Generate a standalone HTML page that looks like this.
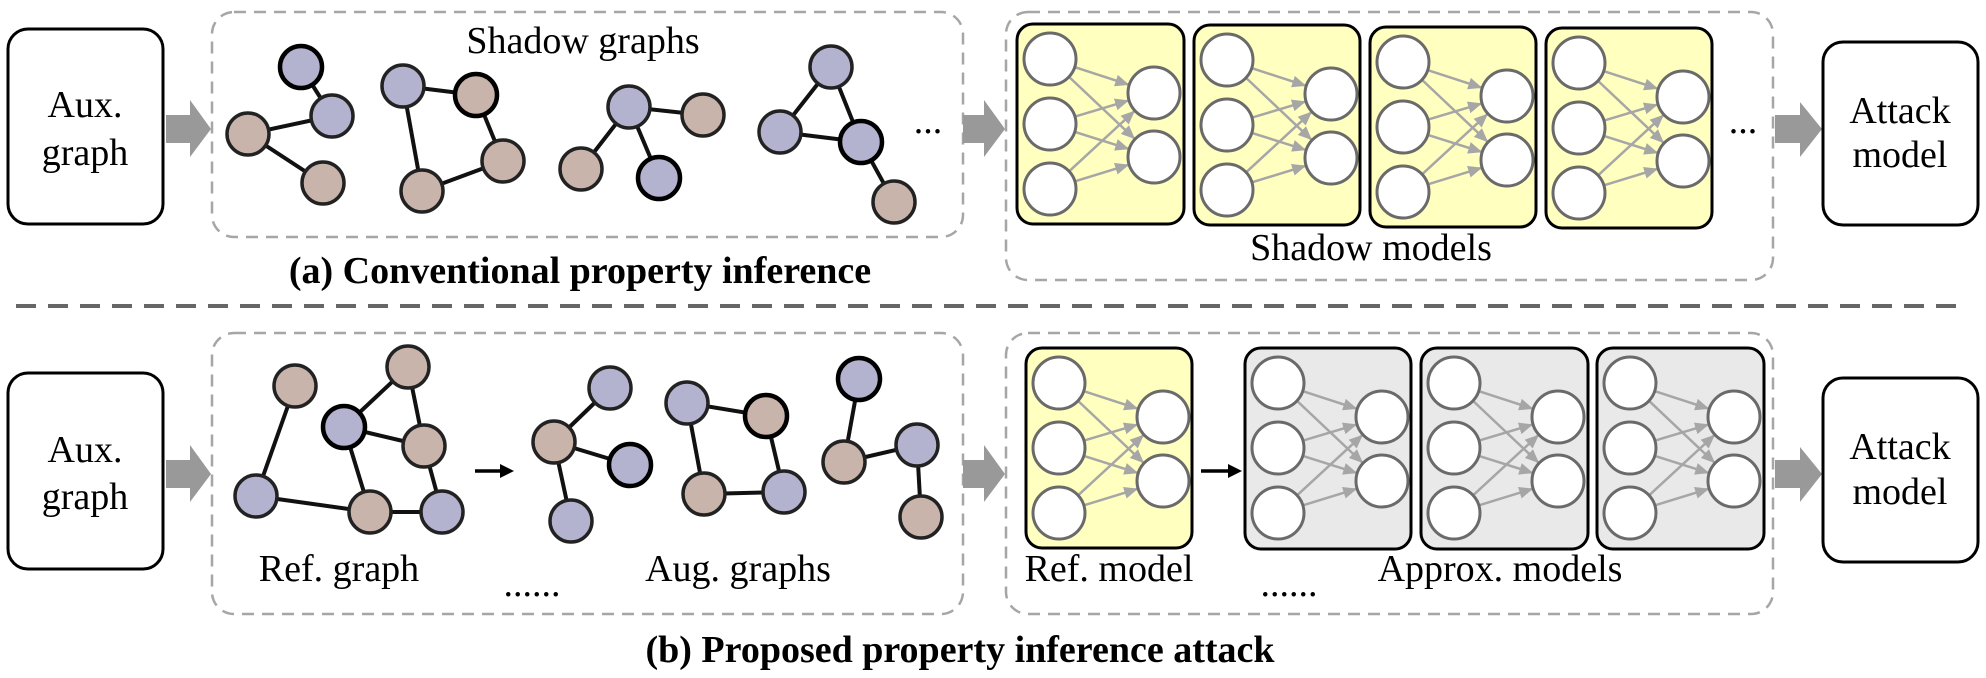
<!DOCTYPE html>
<html><head><meta charset="utf-8"><style>
html,body{margin:0;padding:0;background:#fff;}
svg{display:block;}
svg text{font-family:"Liberation Serif","Times New Roman",serif !important;fill:#000;}
</style></head><body>
<svg width="1986" height="678" viewBox="0 0 1986 678" xmlns="http://www.w3.org/2000/svg" font-family="Liberation Serif, serif">
<defs>
<marker id="ah" markerUnits="userSpaceOnUse" markerWidth="14" markerHeight="12" refX="13" refY="6" orient="auto">
<path d="M0,0 L14,6 L0,12 Z" fill="#a6a6a6"/>
</marker>
<g id="nn">
<g stroke="#a6a6a6" stroke-width="2.5" marker-end="url(#ah)">
<line x1="58.7" y1="43.4" x2="111.3" y2="60.6"/>
<line x1="52.7" y1="53.5" x2="117.3" y2="114.5"/>
<line x1="58.9" y1="92.3" x2="111.1" y2="76.7"/>
<line x1="58.7" y1="108.2" x2="111.3" y2="124.8"/>
<line x1="52.8" y1="146.7" x2="117.2" y2="87.3"/>
<line x1="58.8" y1="157.1" x2="111.2" y2="140.9"/>
</g>
<g fill="#fff" stroke="#6a6a6a" stroke-width="3">
<circle cx="33" cy="35" r="26"/><circle cx="33" cy="100" r="26"/><circle cx="33" cy="165" r="26"/>
<circle cx="137" cy="69" r="26"/><circle cx="137" cy="133" r="26"/>
</g>
</g>
</defs>

<g font-family="Liberation Serif, serif">
<!-- Row A -->
<rect x="8" y="29" width="155" height="195" rx="20" fill="#fff" stroke="#000" stroke-width="3"/>
<text x="85" y="117" font-size="38" text-anchor="middle">Aux.</text>
<text x="85" y="165" font-size="38" text-anchor="middle">graph</text>
<polygon points="166,115 190,115 190,100 211,129 190,157 190,143 166,143" fill="#999"/>

<rect x="212" y="12" width="751" height="225" rx="22" fill="none" stroke="#a6a6a6" stroke-width="2.5" stroke-dasharray="12 8"/>
<text x="583" y="53" font-size="38" text-anchor="middle">Shadow graphs</text>

<g stroke="#111" stroke-width="4">
<line x1="301" y1="67" x2="332" y2="116"/><line x1="332" y1="116" x2="248" y2="134"/><line x1="248" y1="134" x2="323" y2="183"/>
<line x1="403" y1="86" x2="476" y2="95"/><line x1="476" y1="95" x2="503" y2="161"/><line x1="503" y1="161" x2="422" y2="191"/><line x1="422" y1="191" x2="403" y2="86"/>
<line x1="629" y1="107" x2="703" y2="115"/><line x1="629" y1="107" x2="581" y2="169"/><line x1="629" y1="107" x2="659" y2="178"/>
<line x1="831" y1="67" x2="780" y2="132"/><line x1="831" y1="67" x2="861" y2="142"/><line x1="780" y1="132" x2="861" y2="142"/><line x1="861" y1="142" x2="894" y2="202"/>
</g>
<g stroke="#222" stroke-width="3.5">
<circle cx="301" cy="67" r="21" fill="#b3b3d0" stroke="#000" stroke-width="4.5"/>
<circle cx="332" cy="116" r="21" fill="#b3b3d0"/>
<circle cx="248" cy="134" r="21" fill="#c8b4ab"/>
<circle cx="323" cy="183" r="21" fill="#c8b4ab"/>
<circle cx="403" cy="86" r="21" fill="#b3b3d0"/>
<circle cx="476" cy="95" r="21" fill="#c8b4ab" stroke="#000" stroke-width="4.5"/>
<circle cx="503" cy="161" r="21" fill="#c8b4ab"/>
<circle cx="422" cy="191" r="21" fill="#c8b4ab"/>
<circle cx="629" cy="107" r="21" fill="#b3b3d0"/>
<circle cx="703" cy="115" r="21" fill="#c8b4ab"/>
<circle cx="581" cy="169" r="21" fill="#c8b4ab"/>
<circle cx="659" cy="178" r="21" fill="#b3b3d0" stroke="#000" stroke-width="4.5"/>
<circle cx="831" cy="67" r="21" fill="#b3b3d0"/>
<circle cx="780" cy="132" r="21" fill="#b3b3d0"/>
<circle cx="861" cy="142" r="21" fill="#b3b3d0" stroke="#000" stroke-width="4.5"/>
<circle cx="894" cy="202" r="21" fill="#c8b4ab"/>
</g>
<text x="928" y="133" font-size="38" text-anchor="middle">...</text>

<polygon points="963,115 984,115 984,100 1005,129 984,157 984,143 963,143" fill="#999"/>

<rect x="1006" y="12" width="767" height="268" rx="22" fill="none" stroke="#a6a6a6" stroke-width="2.5" stroke-dasharray="12 8"/>
<rect x="1017" y="24" width="167" height="200" rx="16" fill="#ffffc0" stroke="#000" stroke-width="3"/>
<use href="#nn" transform="translate(1017,24)"/>
<rect x="1194" y="25" width="166" height="200" rx="16" fill="#ffffc0" stroke="#000" stroke-width="3"/>
<use href="#nn" transform="translate(1194,25)"/>
<rect x="1370" y="27" width="166" height="200" rx="16" fill="#ffffc0" stroke="#000" stroke-width="3"/>
<use href="#nn" transform="translate(1370,27)"/>
<rect x="1546" y="28" width="166" height="200" rx="16" fill="#ffffc0" stroke="#000" stroke-width="3"/>
<use href="#nn" transform="translate(1546,28)"/>
<text x="1743" y="133" font-size="38" text-anchor="middle">...</text>
<text x="1371" y="260" font-size="38" text-anchor="middle">Shadow models</text>

<polygon points="1775,115 1800,115 1800,102 1822,129 1800,157 1800,143 1775,143" fill="#999"/>
<rect x="1823" y="42" width="155" height="183" rx="20" fill="#fff" stroke="#000" stroke-width="3"/>
<text x="1900" y="123" font-size="38" text-anchor="middle">Attack</text>
<text x="1900" y="167" font-size="38" text-anchor="middle">model</text>

<text x="580" y="283" font-size="38" font-weight="bold" text-anchor="middle">(a) Conventional property inference</text>

<line x1="16" y1="306" x2="1968" y2="306" stroke="#666" stroke-width="4" stroke-dasharray="20 12"/>

<!-- Row B -->
<rect x="8" y="373" width="155" height="196" rx="20" fill="#fff" stroke="#000" stroke-width="3"/>
<text x="85" y="462" font-size="38" text-anchor="middle">Aux.</text>
<text x="85" y="509" font-size="38" text-anchor="middle">graph</text>
<polygon points="166,460 190,460 190,445 211,474 190,502 190,488 166,488" fill="#999"/>

<rect x="212" y="333" width="751" height="281" rx="22" fill="none" stroke="#a6a6a6" stroke-width="2.5" stroke-dasharray="12 8"/>

<g stroke="#111" stroke-width="4">
<line x1="295" y1="386" x2="256" y2="496"/><line x1="408" y1="367" x2="344" y2="427"/><line x1="408" y1="367" x2="424" y2="446"/>
<line x1="344" y1="427" x2="424" y2="446"/><line x1="344" y1="427" x2="370" y2="512"/><line x1="424" y1="446" x2="442" y2="512"/>
<line x1="256" y1="496" x2="370" y2="512"/><line x1="370" y1="512" x2="442" y2="512"/>
<line x1="610" y1="388" x2="554" y2="442"/><line x1="554" y1="442" x2="630" y2="465"/><line x1="554" y1="442" x2="571" y2="521"/>
<line x1="687" y1="403" x2="766" y2="416"/><line x1="766" y1="416" x2="784" y2="492"/><line x1="687" y1="403" x2="704" y2="494"/><line x1="704" y1="494" x2="784" y2="492"/>
<line x1="859" y1="379" x2="844" y2="462"/><line x1="844" y1="462" x2="917" y2="445"/><line x1="917" y1="445" x2="921" y2="517"/>
</g>
<g stroke="#222" stroke-width="3.5">
<circle cx="295" cy="386" r="21" fill="#c8b4ab"/>
<circle cx="408" cy="367" r="21" fill="#c8b4ab"/>
<circle cx="344" cy="427" r="21" fill="#b3b3d0" stroke="#000" stroke-width="4.5"/>
<circle cx="424" cy="446" r="21" fill="#c8b4ab"/>
<circle cx="256" cy="496" r="21" fill="#b3b3d0"/>
<circle cx="370" cy="512" r="21" fill="#c8b4ab"/>
<circle cx="442" cy="512" r="21" fill="#b3b3d0"/>
<circle cx="610" cy="388" r="21" fill="#b3b3d0"/>
<circle cx="554" cy="442" r="21" fill="#c8b4ab"/>
<circle cx="630" cy="465" r="21" fill="#b3b3d0" stroke="#000" stroke-width="4.5"/>
<circle cx="571" cy="521" r="21" fill="#b3b3d0"/>
<circle cx="687" cy="403" r="21" fill="#b3b3d0"/>
<circle cx="766" cy="416" r="21" fill="#c8b4ab" stroke="#000" stroke-width="4.5"/>
<circle cx="704" cy="494" r="21" fill="#c8b4ab"/>
<circle cx="784" cy="492" r="21" fill="#b3b3d0"/>
<circle cx="859" cy="379" r="21" fill="#b3b3d0" stroke="#000" stroke-width="4.5"/>
<circle cx="844" cy="462" r="21" fill="#c8b4ab"/>
<circle cx="917" cy="445" r="21" fill="#b3b3d0"/>
<circle cx="921" cy="517" r="21" fill="#c8b4ab"/>
</g>
<line x1="475" y1="471" x2="503" y2="471" stroke="#000" stroke-width="3.5"/>
<polygon points="500,464 514,471 500,478" fill="#000"/>
<text x="339" y="581" font-size="38" text-anchor="middle">Ref. graph</text>
<text x="738" y="581" font-size="38" text-anchor="middle">Aug. graphs</text>
<text x="532" y="596" font-size="38" text-anchor="middle">......</text>

<polygon points="963,460 984,460 984,445 1005,474 984,502 984,488 963,488" fill="#999"/>

<rect x="1006" y="333" width="767" height="281" rx="22" fill="none" stroke="#a6a6a6" stroke-width="2.5" stroke-dasharray="12 8"/>
<rect x="1026" y="348" width="166" height="200" rx="16" fill="#ffffc0" stroke="#000" stroke-width="3"/>
<use href="#nn" transform="translate(1026,348)"/>
<line x1="1201" y1="471" x2="1230" y2="471" stroke="#000" stroke-width="3.5"/>
<polygon points="1228,464 1242,471 1228,478" fill="#000"/>
<rect x="1245" y="348" width="166" height="201" rx="16" fill="#e9e9e9" stroke="#000" stroke-width="3"/>
<use href="#nn" transform="translate(1245,348)"/>
<rect x="1421" y="348" width="167" height="201" rx="16" fill="#e9e9e9" stroke="#000" stroke-width="3"/>
<use href="#nn" transform="translate(1421,348)"/>
<rect x="1597" y="348" width="167" height="201" rx="16" fill="#e9e9e9" stroke="#000" stroke-width="3"/>
<use href="#nn" transform="translate(1597,348)"/>
<text x="1109" y="581" font-size="38" text-anchor="middle">Ref. model</text>
<text x="1500" y="581" font-size="38" text-anchor="middle">Approx. models</text>
<text x="1289" y="596" font-size="38" text-anchor="middle">......</text>

<polygon points="1775,460 1800,460 1800,447 1822,474 1800,502 1800,488 1775,488" fill="#999"/>
<rect x="1823" y="378" width="155" height="184" rx="20" fill="#fff" stroke="#000" stroke-width="3"/>
<text x="1900" y="459" font-size="38" text-anchor="middle">Attack</text>
<text x="1900" y="504" font-size="38" text-anchor="middle">model</text>

<text x="960" y="662" font-size="38" font-weight="bold" text-anchor="middle">(b) Proposed property inference attack</text>
</g>
</svg>
</body></html>
